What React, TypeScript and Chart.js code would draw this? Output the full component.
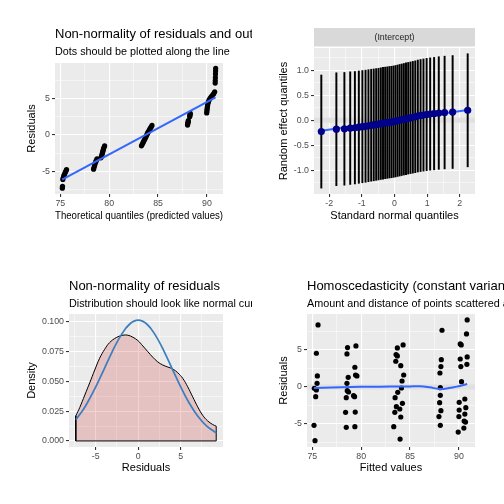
import React, { useEffect, useRef } from 'react';
import { Chart, registerables } from 'chart.js';
Chart.register(...registerables);

const FONT = '"Liberation Sans", Arial, Helvetica, sans-serif';

// ---------- Panel 1: residual QQ ----------
const qqTheoretical = [
  75.2, 75.22, 75.25, 75.3, 75.35, 75.42, 75.5, 75.57, 75.63,
  78.4, 78.45, 78.5, 78.55, 78.62, 78.68, 78.75, 79.15, 79.2, 79.25, 79.3, 79.34, 79.38, 79.42, 79.47, 79.53,
  83.3, 83.38, 83.45, 83.52, 83.6, 83.68, 83.75, 83.82, 83.88, 83.95, 84.02, 84.1, 84.18, 84.28, 84.38,
  88.02, 88.04, 88.06, 88.08, 88.1, 88.24, 88.26, 88.28, 88.3,
  89.98, 90.0, 90.02, 90.04, 90.07, 90.1, 90.15, 90.22, 90.32, 90.45, 90.58, 90.7, 90.8,
  90.85, 90.86, 90.87, 90.88, 90.89, 90.9,
];
const qqResidual = [
  -7.3, -7.05, -6.1, -5.85, -5.6, -5.4, -5.15, -4.95, -4.75,
  -4.7, -4.45, -4.2, -3.95, -3.7, -3.5, -3.3, -3.15, -2.95, -2.75, -2.5, -2.3, -2.1, -1.9, -1.7, -1.5,
  -1.5, -1.3, -1.1, -0.9, -0.7, -0.5, -0.3, -0.1, 0.1, 0.3, 0.45, 0.65, 0.85, 1.05, 1.3,
  1.35, 1.5, 1.65, 1.8, 1.95, 2.5, 2.65, 2.8, 2.95,
  3.0, 3.25, 3.5, 3.75, 4.0, 4.25, 4.5, 4.75, 5.0, 5.25, 5.45, 5.65, 5.9,
  7.1, 7.45, 7.85, 8.35, 8.75, 9.1,
];
const qqRefX = [75.17, 90.89];
const qqRefY = [-6.14, 5.14];

// ---------- Panel 2: random effects QQ ----------
const reNormalQuantiles = [
  -2.241, -1.78, -1.534, -1.356, -1.213, -1.092, -0.984, -0.887, -0.798, -0.714,
  -0.636, -0.561, -0.489, -0.419, -0.352, -0.286, -0.221, -0.157, -0.094, -0.031,
  0.031, 0.094, 0.157, 0.221, 0.286, 0.352, 0.419, 0.489, 0.561, 0.636,
  0.714, 0.798, 0.887, 0.984, 1.092, 1.213, 1.356, 1.534, 1.78, 2.241,
];
const reEstimates = [
  -0.227, -0.18, -0.172, -0.158, -0.15, -0.138, -0.128, -0.12, -0.11, -0.1,
  -0.093, -0.085, -0.077, -0.068, -0.06, -0.053, -0.047, -0.04, -0.035, -0.028,
  -0.02, -0.01, 0.0, 0.01, 0.02, 0.03, 0.04, 0.05, 0.06, 0.07,
  0.085, 0.095, 0.105, 0.115, 0.125, 0.133, 0.145, 0.155, 0.165, 0.2,
];
const reHalfWidth = [
  1.135, 1.133, 1.131, 1.13, 1.128, 1.127, 1.126, 1.125, 1.124, 1.123,
  1.122, 1.121, 1.12, 1.12, 1.12, 1.119, 1.119, 1.119, 1.118, 1.118,
  1.118, 1.118, 1.119, 1.119, 1.119, 1.12, 1.12, 1.12, 1.121, 1.122,
  1.123, 1.124, 1.125, 1.126, 1.127, 1.128, 1.13, 1.131, 1.133, 1.135,
];
const reFitX = [-2.241, 2.241];
const reFitY = [-0.21, 0.205];

// ---------- Panel 3: residual density ----------
const densX = [-7.35, -6.88, -6.29, -5.71, -5.12, -4.54, -3.95, -3.37, -2.59, -1.8, -1.22, -0.63, -0.04, 0.54, 1.13, 1.72, 2.3, 2.89, 3.48, 4.06, 4.65, 5.24, 5.82, 6.41, 7.0, 7.58, 8.17, 8.76, 9.18];
const densY = [0.021, 0.0281, 0.0385, 0.0488, 0.0595, 0.0694, 0.0769, 0.0825, 0.0867, 0.0887, 0.0887, 0.087, 0.0842, 0.0797, 0.0749, 0.0702, 0.0663, 0.0637, 0.062, 0.0604, 0.0572, 0.0525, 0.0455, 0.037, 0.0286, 0.0216, 0.0168, 0.0138, 0.0124];
const normX = [-7.35, -6.5, -6, -5, -4, -3, -2, -1, 0, 1, 2, 3, 4, 5, 6, 7, 8, 9.18];
const normY = [0.0178, 0.026, 0.0318, 0.0453, 0.0605, 0.0758, 0.089, 0.0981, 0.1013, 0.0981, 0.089, 0.0758, 0.0605, 0.0453, 0.0318, 0.0209, 0.0129, 0.0067];

// ---------- Panel 4: residuals vs fitted ----------
const fittedValues = [
  75.58, 75.41, 75.51, 75.48, 75.2, 75.41, 75.34, 75.17, 75.27,
  78.6, 78.54, 78.67, 78.54, 78.57, 78.7, 78.47, 78.4, 78.47,
  79.46, 79.35, 79.42, 79.56, 79.22, 79.32, 79.39, 79.35,
  83.7, 83.57, 83.7, 83.54, 83.47, 83.74, 83.6, 83.44, 83.95, 83.33,
  84.29, 84.05, 84.35, 84.18, 84.12, 84.22, 84.05, 83.98,
  88.27, 88.2, 88.16, 88.06, 88.1, 88.1, 88.03, 88.16, 87.96, 88.1,
  90.14, 90.24, 90.14, 90.2, 90.27, 90.03, 90.03, 90.0, 89.93,
  90.85, 90.78, 90.85, 90.82, 90.61, 90.71, 90.61, 90.54, 90.68, 90.51,
];
const residuals = [
  8.38, 4.55, 1.49, 0.5, -0.18, -0.4, -1.31, -5.18, -7.25,
  5.32, 4.46, 1.31, 0.5, -0.5, -0.68, -1.44, -3.42, -5.45,
  5.54, 2.66, 1.62, 1.49, -1.17, -1.31, -3.38, -5.36,
  5.27, 4.37, 4.19, 3.47, -1.44, -0.72, -2.66, -3.42, -2.97, -5.36,
  5.68, 2.88, 1.62, 0.81, -0.14, -2.21, -4.05, -7.03,
  7.66, 3.69, 2.75, 1.89, -0.09, -1.13, -2.12, -3.2, -4.0, -5.18,
  5.81, 5.68, 3.78, 2.75, 0.72, -2.07, -3.11, -4.0, -6.08,
  9.05, 7.16, 4.05, 3.06, -1.62, -2.79, -3.65, -4.59, -4.73, -5.54,
];
const smoothX = [75.17, 77, 79, 81, 83, 85, 86, 87, 88, 89, 89.8, 90.85];
const smoothY = [-0.15, -0.07, 0.0, 0.03, 0.05, 0.08, 0.1, -0.05, -0.27, -0.15, 0.05, 0.4];

// ---------- helpers ----------
const xy = (xs: number[], ys: number[]) => xs.map((x, i) => ({ x, y: ys[i] }));

type AxisOpts = {
  axis: 'x' | 'y'; min: number; max: number; minor: number; major: number;
  fmt: (v: number) => string; title: string; size: number;
};

function makeAxis(o: AxisOpts) {
  const isMajor = (v: number) => v !== undefined && Math.abs(v / o.major - Math.round(v / o.major)) < 1e-6;
  return {
    type: 'linear', min: o.min, max: o.max, offset: false,
    afterFit: (s: any) => { if (o.axis === 'x') s.height = o.size; else s.width = o.size; },
    border: { display: false },
    grid: {
      offset: false,
      color: '#FFFFFF',
      lineWidth: (c: any) => (isMajor(c.tick?.value) ? 1.1 : 0.5),
      drawTicks: true,
      tickLength: 3,
      tickWidth: 1.1,
      tickColor: (c: any) => (isMajor(c.tick?.value) ? '#333333' : 'rgba(0,0,0,0)'),
    },
    ticks: {
      stepSize: o.minor, includeBounds: false, autoSkip: false, maxRotation: 0, minRotation: 0,
      padding: o.axis === 'x' ? 1.5 : 2,
      color: '#4D4D4D', font: { family: FONT, size: 8.8 },
      callback: (v: any) => (isMajor(Number(v)) ? o.fmt(Number(v)) : ''),
    },
    title: {
      display: true, text: o.title, color: '#000000', font: { family: FONT, size: 11 },
      padding: o.axis === 'x' ? { top: 0, bottom: 29.9 } : { top: 25.4, bottom: 0 },
    },
  };
}

function panelPlugin(title?: string, subtitle?: string, strip?: string) {
  return {
    id: 'panelDecor',
    beforeDraw(chart: any) {
      const { ctx, chartArea: a } = chart;
      ctx.save();
      ctx.fillStyle = '#EBEBEB';
      ctx.fillRect(a.left, a.top, a.right - a.left, a.bottom - a.top);
      if (strip) {
        ctx.fillStyle = '#D9D9D9';
        ctx.fillRect(a.left, 28, a.right - a.left, 18.5);
        ctx.fillStyle = '#1A1A1A';
        ctx.font = `8.8px ${FONT}`;
        ctx.textAlign = 'center';
        ctx.textBaseline = 'middle';
        ctx.fillText(strip, (a.left + a.right) / 2, 37.3);
      }
      ctx.fillStyle = '#000000';
      ctx.textAlign = 'left';
      ctx.textBaseline = 'alphabetic';
      if (title) {
        ctx.font = `13px ${FONT}`;
        ctx.fillText(title, a.left, 38);
      }
      if (subtitle) {
        ctx.font = `10.8px ${FONT}`;
        ctx.fillText(subtitle, a.left, 54.5);
      }
      ctx.restore();
    },
  };
}

function baseOptions(area: { l: number; r: number; t: number; b: number }, x: any, y: any) {
  return {
    responsive: false, animation: false, devicePixelRatio: 1, events: [],
    layout: { padding: { left: 0, top: area.t, right: 252 - area.r, bottom: 0 } },
    plugins: { legend: { display: false }, tooltip: { enabled: false }, title: { display: false } },
    scales: { x, y },
  };
}

const f0 = (v: number) => String(Math.round(v));

function buildPanel1(): any {
  const area = { l: 55, r: 223, t: 63, b: 194 };
  return {
    type: 'scatter',
    data: {
      datasets: [
        { type: 'line', data: xy(qqRefX, qqRefY), borderColor: '#3366FF', borderWidth: 2, pointRadius: 0, fill: false },
        { type: 'scatter', data: xy(qqTheoretical, qqResidual), backgroundColor: '#000000', borderWidth: 0, pointRadius: 2.6 },
      ],
    },
    options: baseOptions(area,
      makeAxis({ axis: 'x', min: 74.45, max: 91.65, minor: 2.5, major: 5, fmt: f0, title: 'Theoretical quantiles (predicted values)', size: 252 - area.b }),
      makeAxis({ axis: 'y', min: -8.1, max: 9.85, minor: 2.5, major: 5, fmt: f0, title: 'Residuals', size: area.l })),
    plugins: [panelPlugin('Non-normality of residuals and outliers', 'Dots should be plotted along the line')],
  };
}

function buildPanel2(): any {
  const area = { l: 62, r: 223, t: 48, b: 194 };
  const xMin = -2.465, xMax = 2.465;
  return {
    type: 'scatter',
    data: {
      datasets: [
        { type: 'scatter', data: xy(reNormalQuantiles, reEstimates), backgroundColor: '#00008B', borderWidth: 0, pointRadius: 3.6 },
        { type: 'line', data: xy(reFitX, reFitY), borderColor: '#3366FF', borderWidth: 2, pointRadius: 0, fill: false },
        {
          type: 'bar',
          data: reNormalQuantiles.map((q, i) => ({ x: q, y: [reEstimates[i] - reHalfWidth[i], reEstimates[i] + reHalfWidth[i]] })),
          backgroundColor: '#000000', borderWidth: 0, barThickness: 1.3, grouped: false,
        },
        { type: 'line', data: [{ x: xMin, y: 0 }, { x: xMax, y: 0 }], borderColor: '#E0E0E0', borderWidth: 5, pointRadius: 0, fill: false },
      ],
    },
    options: baseOptions(area,
      makeAxis({ axis: 'x', min: xMin, max: xMax, minor: 0.5, major: 1, fmt: f0, title: 'Standard normal quantiles', size: 252 - area.b }),
      makeAxis({ axis: 'y', min: -1.48, max: 1.45, minor: 0.25, major: 0.5, fmt: (v) => v.toFixed(1), title: 'Random effect quantiles', size: area.l })),
    plugins: [panelPlugin(undefined, undefined, '(Intercept)')],
  };
}

function buildPanel3(): any {
  const area = { l: 69, r: 223, t: 62, b: 195 };
  const n = densX.length - 1;
  return {
    type: 'scatter',
    data: {
      datasets: [
        { type: 'line', data: xy(normX, normY), borderColor: '#3A7EBF', borderWidth: 1.7, pointRadius: 0, fill: false, tension: 0.4 },
        {
          type: 'line',
          data: [{ x: densX[0], y: densY[0] }, { x: densX[0], y: 0 }, { x: densX[n], y: 0 }, { x: densX[n], y: densY[n] }],
          borderColor: '#000000', borderWidth: 1, pointRadius: 0, fill: false, tension: 0,
        },
        { type: 'line', data: xy(densX, densY), borderColor: '#000000', borderWidth: 1, pointRadius: 0, fill: 'origin', backgroundColor: 'rgba(205,32,31,0.2)', tension: 0.4 },
      ],
    },
    options: baseOptions(area,
      makeAxis({ axis: 'x', min: -8.15, max: 9.98, minor: 2.5, major: 5, fmt: f0, title: 'Residuals', size: 252 - area.b }),
      makeAxis({ axis: 'y', min: -0.0051, max: 0.1065, minor: 0.0125, major: 0.025, fmt: (v) => v.toFixed(3), title: 'Density', size: area.l })),
    plugins: [panelPlugin('Non-normality of residuals', 'Distribution should look like normal curve')],
  };
}

function buildPanel4(): any {
  const area = { l: 55, r: 223, t: 62, b: 195 };
  const xMin = 74.45, xMax = 91.65;
  return {
    type: 'scatter',
    data: {
      datasets: [
        { type: 'line', data: xy(smoothX, smoothY), borderColor: '#3366FF', borderWidth: 2, pointRadius: 0, fill: false, tension: 0.4 },
        { type: 'scatter', data: xy(fittedValues, residuals), backgroundColor: '#000000', borderWidth: 0, pointRadius: 2.6 },
        { type: 'line', data: [{ x: xMin, y: 0 }, { x: xMax, y: 0 }], borderColor: '#E0E0E0', borderWidth: 5, pointRadius: 0, fill: false },
      ],
    },
    options: baseOptions(area,
      makeAxis({ axis: 'x', min: xMin, max: xMax, minor: 2.5, major: 5, fmt: f0, title: 'Fitted values', size: 252 - area.b }),
      makeAxis({ axis: 'y', min: -8.1, max: 9.85, minor: 2.5, major: 5, fmt: f0, title: 'Residuals', size: area.l })),
    plugins: [panelPlugin('Homoscedasticity (constant variance)', 'Amount and distance of points scattered above/below line is equal or randomly spread')],
  };
}

function Panel({ left, top, build }: { left: number; top: number; build: () => any }) {
  const ref = useRef<HTMLCanvasElement>(null);
  useEffect(() => {
    const chart = new Chart(ref.current as HTMLCanvasElement, build());
    return () => chart.destroy();
  }, []);
  return (
    <canvas
      ref={ref}
      width={252}
      height={252}
      style={{ position: 'absolute', left, top, width: 252, height: 252 }}
    />
  );
}

export default function App() {
  return (
    <div style={{ position: 'absolute', left: 0, top: 0, width: 504, height: 504, background: '#FFFFFF', overflow: 'hidden' }}>
      <Panel left={0} top={0} build={buildPanel1} />
      <Panel left={252} top={0} build={buildPanel2} />
      <Panel left={0} top={252} build={buildPanel3} />
      <Panel left={252} top={252} build={buildPanel4} />
    </div>
  );
}
